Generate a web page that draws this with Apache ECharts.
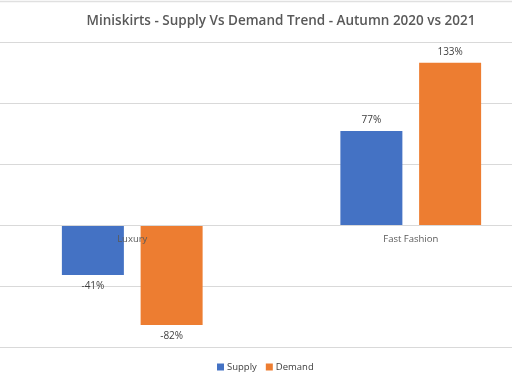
<!DOCTYPE html>
<html><head><meta charset="utf-8">
<script src="https://cdn.jsdelivr.net/npm/echarts@6/dist/echarts.min.js"></script>
<style>html,body{margin:0;padding:0;background:#fff}#c{width:512px;height:384px}</style>
</head><body><div id="c"></div>
<script>
const categories = ['Luxury', 'Fast Fashion'];
const supply = [-41, 77];
const demand = [-82, 133];
const seriesNames = ['Supply', 'Demand'];

function withLabels(arr) {
  return arr.map(v => ({ value: v, label: { position: v < 0 ? 'bottom' : 'top' } }));
}
const chart = echarts.init(document.getElementById('c'));
const lbl = { show: true, formatter: p => p.value + '%', color: '#404040', fontSize: 10, fontFamily: 'Open Sans', distance: 6 };
chart.setOption({
  animation: false,
  title: { text: 'Miniskirts - Supply Vs Demand Trend - Autumn 2020 vs 2021', left: 276, top: 9, textAlign: 'center',
    textStyle: { fontFamily: 'Open Sans', fontWeight: 600, fontSize: 13.5, color: '#595959' } },
  legend: { bottom: 7, left: 212, itemWidth: 7, itemHeight: 7, icon: 'rect', itemGap: 9,
    textStyle: { fontFamily: 'Open Sans', fontSize: 9.5, color: '#404040', padding: [0, 0, 0, -2] } },
  grid: { left: -7, width: 557, top: 42, bottom: 37, containLabel: false, outerBoundsMode: 'none' },
  graphic: [{ type: 'line', shape: { x1: 0, y1: 1.5, x2: 512, y2: 1.5 }, style: { stroke: '#e0e0e0', lineWidth: 1.5 } }],
  xAxis: { type: 'category', data: categories, offset: -122, z: 10,
    axisLine: { onZero: false, lineStyle: { color: '#d9d9d9' } }, axisTick: { show: false },
    axisLabel: { color: '#595959', fontFamily: 'Open Sans', fontSize: 9.5, margin: 9 } },
  yAxis: { type: 'value', min: -100, max: 150, interval: 50, axisLabel: { show: false },
    splitLine: { lineStyle: { color: '#d9d9d9' } }, axisLine: { show: false } },
  series: [
    { name: seriesNames[0], type: 'bar', data: withLabels(supply), barWidth: 62, barGap: '27%', itemStyle: { color: '#4472C4' }, label: lbl },
    { name: seriesNames[1], type: 'bar', data: withLabels(demand), barWidth: 62, itemStyle: { color: '#ED7D31' }, label: lbl }
  ]
});
</script></body></html>
